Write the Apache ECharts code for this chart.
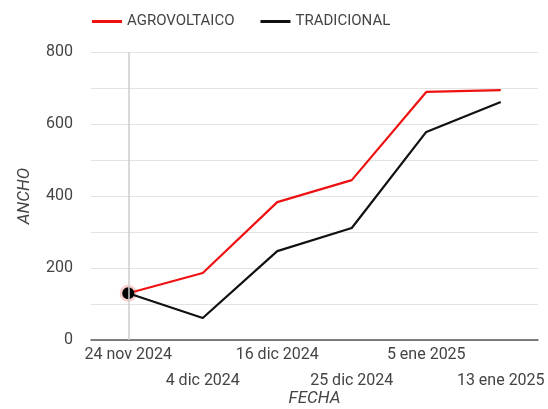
<!DOCTYPE html>
<html><head><meta charset="utf-8">
<script src="https://cdn.jsdelivr.net/npm/echarts@6/dist/echarts.min.js"></script>
<style>html,body{margin:0;padding:0;background:#fff}#c{width:548px;height:409px}</style>
</head><body><div id="c"></div>
<script>
const categories = ['24 nov 2024','4 dic 2024','16 dic 2024','25 dic 2024','5 ene 2025','13 ene 2025'];
const agrovoltaico = [130, 186, 383, 444, 689, 694];
const tradicional = [130, 61, 247, 311, 578, 661];
const yTicks = [0, 200, 400, 600, 800];

const chart = echarts.init(document.getElementById('c'));
const font = 'Roboto, "Liberation Sans", Arial, sans-serif';
chart.setOption({
  animation: false,
  legend: {
    top: 9, left: 87, itemWidth: 30, itemHeight: 3, itemGap: 26,
    icon: 'rect',
    textStyle: {fontFamily: font, fontSize: 15, color: '#444'},
    data: ['AGROVOLTAICO', 'TRADICIONAL']
  },
  grid: {left: 91, right: 10, top: 52, bottom: 69, outerBoundsMode: 'none'},
  xAxis: {
    type: 'category', data: categories, boundaryGap: true,
    name: 'FECHA', nameLocation: 'middle', nameGap: 50, nameMoveOverlap: false,
    nameTextStyle: {fontFamily: font, fontStyle: 'italic', fontSize: 17, color: '#444'},
    axisLine: {lineStyle: {color: '#555', width: 1.5}},
    axisTick: {show: false},
    axisLabel: {
      interval: 0, fontFamily: font, fontSize: 16, color: '#444', margin: 2,
      lineHeight: 26,
      formatter: (v, i) => (i % 2 ? '\n' + v : v)
    }
  },
  yAxis: {
    type: 'value', min: 0, max: 800, interval: 100,
    name: 'ANCHO', nameLocation: 'middle', nameGap: 58, nameRotate: 90, nameMoveOverlap: false,
    nameTextStyle: {fontFamily: font, fontStyle: 'italic', fontSize: 17, color: '#444'},
    axisLine: {show: false}, axisTick: {show: false},
    axisLabel: {fontFamily: font, fontSize: 16, color: '#444', margin: 18,
      formatter: v => (yTicks.includes(v) ? String(v) : '')},
    splitLine: {lineStyle: {color: '#e3e3e3', width: 1}}
  },
  series: [
    {
      name: 'AGROVOLTAICO', type: 'line', showSymbol: true, symbol: 'none',
      color: '#ee1111', lineStyle: {width: 2.2, color: '#ee1111'},
      data: agrovoltaico.map((v, i) => i === 0 ? {value: v, symbol: 'circle', symbolSize: 17, itemStyle: {color: 'rgba(238,60,60,0.25)'}} : v),
      markLine: {
        silent: true, symbol: 'none', label: {show: false},
        lineStyle: {color: '#cccccc', width: 1.5, type: 'solid'},
        data: [{xAxis: categories[0]}]
      },
      z: 2
    },
    {
      name: 'TRADICIONAL', type: 'line', showSymbol: true, symbol: 'none',
      color: '#111111', lineStyle: {width: 2.2, color: '#111111'},
      data: tradicional.map((v, i) => i === 0 ? {value: v, symbol: 'circle', symbolSize: 12, itemStyle: {color: '#000'}} : v),
      z: 3
    }
  ]
});
</script></body></html>
